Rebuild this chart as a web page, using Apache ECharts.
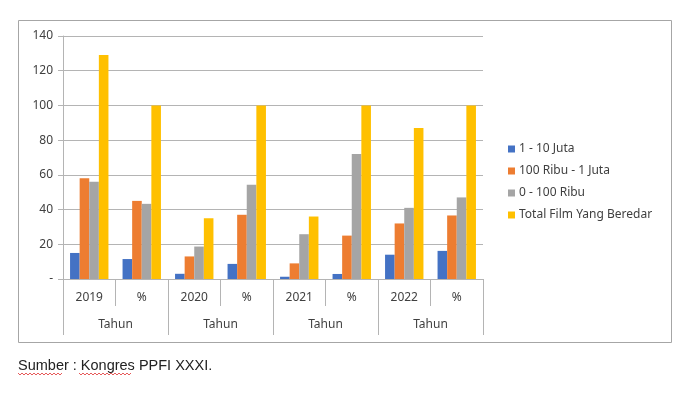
<!DOCTYPE html>
<html>
<head>
<meta charset="utf-8">
<script src="https://cdn.jsdelivr.net/npm/echarts@6/dist/echarts.min.js"></script>
<style>
html,body{margin:0;padding:0;background:#fff;}
#chart{width:700px;height:393px;}
</style>
</head>
<body>
<div id="chart"></div>
<script>
const categories = ['2019', '%', '2020', '%', '2021', '%', '2022', '%'];
const groupKeys = ['2019', '2020', '2021', '2022'];
const groupLabels = ['Tahun', 'Tahun', 'Tahun', 'Tahun'];
const seriesNames = ['1 - 10 Juta', '100 Ribu - 1 Juta', '0 - 100 Ribu', 'Total Film Yang Beredar'];
const s1to10Juta   = [15, 11.5, 3, 8.7, 1.3, 2.9, 14, 16.2];
const s100RibuTo1J = [58, 45, 13, 37, 9, 25, 32, 36.6];
const s0to100Ribu  = [56, 43.3, 18.7, 54.3, 25.8, 72, 41, 47];
const sTotal       = [129, 100, 35, 100, 36, 100, 87, 100];
const yTicks = { min: 0, max: 140, step: 20 };
const sourceText = 'Sumber : Kongres PPFI XXXI.';

const colors = ['#4472C4', '#ED7D31', '#A5A5A5', '#FFC000'];
const FONT = 'Noto Sans';
const lineCol = '#b4b4b4';

function wave(x0, x1, y) {
  const pts = [];
  let up = true;
  for (let x = x0; x <= x1; x += 2) { pts.push([x, up ? y : y + 2]); up = !up; }
  return pts;
}

const chart = echarts.init(document.getElementById('chart'), null, { renderer: 'canvas' });
const values = [s1to10Juta, s100RibuTo1J, s0to100Ribu, sTotal];
chart.setOption({
  animation: false,
  textStyle: { fontFamily: FONT },
  grid: { left: 63, top: 36, width: 420, height: 243, containLabel: false },
  legend: {
    orient: 'vertical', left: 503, top: 137,
    itemWidth: 7, itemHeight: 7, itemGap: 8, icon: 'rect',
    textStyle: { fontSize: 12, color: '#404040', lineHeight: 14, fontFamily: FONT, padding: [0, 0, 0, -1] },
    data: seriesNames
  },
  xAxis: [
    {
      type: 'category', data: categories, position: 'bottom', offset: 0,
      axisLine: { show: true, lineStyle: { color: lineCol, width: 1 } },
      axisTick: { show: true, interval: 0, length: 27, lineStyle: { color: lineCol } },
      axisLabel: { interval: 0, margin: 13, fontSize: 12, color: '#404040', fontFamily: FONT },
      splitLine: { show: false }
    },
    {
      type: 'category', data: groupKeys, position: 'bottom', offset: 0,
      axisLine: { show: false },
      axisTick: { show: true, interval: 0, length: 56, lineStyle: { color: lineCol } },
      axisLabel: { interval: 0, margin: 40, fontSize: 12, color: '#404040', fontFamily: FONT,
        formatter: (v, i) => groupLabels[i] },
      splitLine: { show: false }
    }
  ],
  yAxis: {
    type: 'value', min: yTicks.min, max: yTicks.max, interval: yTicks.step,
    axisLine: { show: true, lineStyle: { color: lineCol } },
    axisTick: { show: true, length: 5, lineStyle: { color: lineCol } },
    axisLabel: { margin: 10, fontSize: 12, color: '#404040', fontFamily: FONT,
      formatter: v => (v === 0 ? '-' : String(v)) },
    splitLine: { show: true, lineStyle: { color: lineCol, width: 1 } }
  },
  series: seriesNames.map((n, i) => ({
    name: n, type: 'bar', xAxisIndex: 0, data: values[i],
    barWidth: 9.6, barGap: '0%', itemStyle: { color: colors[i] }
  })),
  graphic: [
    { type: 'rect', shape: { x: 18.5, y: 20.5, width: 653, height: 322 },
      style: { fill: 'none', stroke: '#a6a6a6', lineWidth: 1 }, z: 100 },
    { type: 'text', left: 18, top: 358,
      style: { text: sourceText, fontSize: 14.5, fontFamily: 'Liberation Sans', fill: '#222' } },
    { type: 'polyline', shape: { points: wave(18, 63, 373) }, style: { stroke: '#e03030', lineWidth: 0.8, fill: 'none' } },
    { type: 'polyline', shape: { points: wave(79, 131, 373) }, style: { stroke: '#e03030', lineWidth: 0.8, fill: 'none' } }
  ]
});
</script>
</body>
</html>
